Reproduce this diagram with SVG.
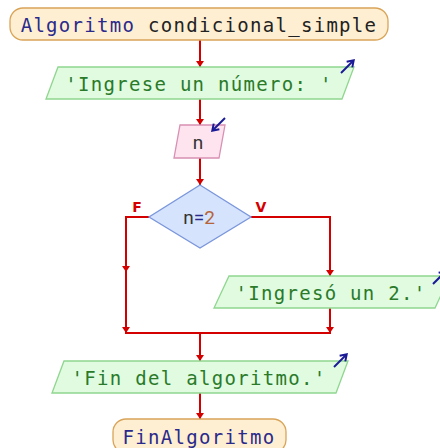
<svg xmlns="http://www.w3.org/2000/svg" width="440" height="448" viewBox="0 0 440 448">
<defs>
<style>
.term{fill:#feefd2;stroke:#d9a458;stroke-width:1.3}
.out{fill:#e0fbe0;stroke:#8fd68f;stroke-width:1.3}
.inp{fill:#fde4ef;stroke:#d890b4;stroke-width:1.3}
.dec{fill:#d5e3fc;stroke:#7a96dc;stroke-width:1.3}
.mono{font-family:"DejaVu Sans Mono","Liberation Mono",monospace;font-size:19px;letter-spacing:1.3px;text-anchor:middle}
.sans{font-family:Roboto,"DejaVu Sans",sans-serif;font-size:19px;text-anchor:middle;fill:#333}
.kw{fill:#2a2a8c}
.str{fill:#2a7a2a}
.flow{fill:none;stroke:#d40000;stroke-width:2}
.icon{fill:none;stroke:#1a1a96;stroke-width:2}
.lbl{font-family:"DejaVu Sans",sans-serif;font-size:14px;font-weight:bold;fill:#d40000;text-anchor:middle}
</style>
<marker id="ah" markerUnits="userSpaceOnUse" markerWidth="10" markerHeight="10" viewBox="-1 -5 8 10" refX="6" refY="0" orient="auto">
<path d="M0,-4 L6,0 L0,4 z" fill="#d40000"/>
</marker>
<marker id="ih" markerUnits="userSpaceOnUse" markerWidth="10" markerHeight="10" viewBox="-1 -5 8 10" refX="5" refY="0" orient="auto">
<path d="M0,-4 L6,0 L0,4" fill="none" stroke="#1a1a96" stroke-width="2"/>
</marker>
</defs>
<rect width="440" height="448" fill="#ffffff"/>
<g id="connectors">
<path class="flow" d="M200,40 V67" marker-end="url(#ah)"/>
<path class="flow" d="M200,99 V125" marker-end="url(#ah)"/>
<path class="flow" d="M200,158 V185" marker-end="url(#ah)"/>
<path class="flow" d="M149,217 H126 V272" marker-end="url(#ah)"/>
<path class="flow" d="M126,270 V333" marker-end="url(#ah)"/>
<path class="flow" d="M251,217 H330 V276" marker-end="url(#ah)"/>
<path class="flow" d="M330,308 V333" marker-end="url(#ah)"/>
<path class="flow" d="M125,333 H331"/>
<path class="flow" d="M200,333 V361" marker-end="url(#ah)"/>
<path class="flow" d="M200,393 V419" marker-end="url(#ah)"/>
<text class="lbl" x="137" y="212">F</text>
<text class="lbl" x="261" y="212">V</text>
</g>
<g id="start">
<rect class="term" x="10" y="8" width="378" height="32" rx="13"/>
<text class="mono" x="199" y="32"><tspan class="kw">Algoritmo</tspan><tspan fill="#222"> condicional_simple</tspan></text>
</g>
<g id="out1">
<polygon class="out" points="58,67 354,67 342,99 46,99"/>
<text class="mono str" x="199" y="91">'Ingrese un número: '</text>
<path class="icon" d="M341,73 L353,61" marker-end="url(#ih)"/>
</g>
<g id="in1">
<polygon class="inp" points="180,125 225,125 219,158 174,158"/>
<text class="sans" x="198" y="149">n</text>
<path class="icon" d="M225,118 L213,130" marker-end="url(#ih)"/>
</g>
<g id="cond">
<polygon class="dec" points="200,185 251,217 200,248 149,217"/>
<text class="sans" x="199" y="224"><tspan>n</tspan><tspan fill="#2a2a8c">=</tspan><tspan fill="#b5643a">2</tspan></text>
</g>
<g id="out2">
<polygon class="out" points="229,276 450,276 435,308 214,308"/>
<text class="mono str" x="331" y="300">'Ingresó un 2.'</text>
<path class="icon" d="M433,284 L445,272" marker-end="url(#ih)"/>
</g>
<g id="out3">
<polygon class="out" points="64,361 348,361 336,393 52,393"/>
<text class="mono str" x="199" y="385">'Fin del algoritmo.'</text>
<path class="icon" d="M334,367 L346,355" marker-end="url(#ih)"/>
</g>
<g id="end">
<rect class="term" x="113" y="419" width="173" height="34" rx="13"/>
<text class="mono kw" x="199" y="444">FinAlgoritmo</text>
</g>
</svg>
